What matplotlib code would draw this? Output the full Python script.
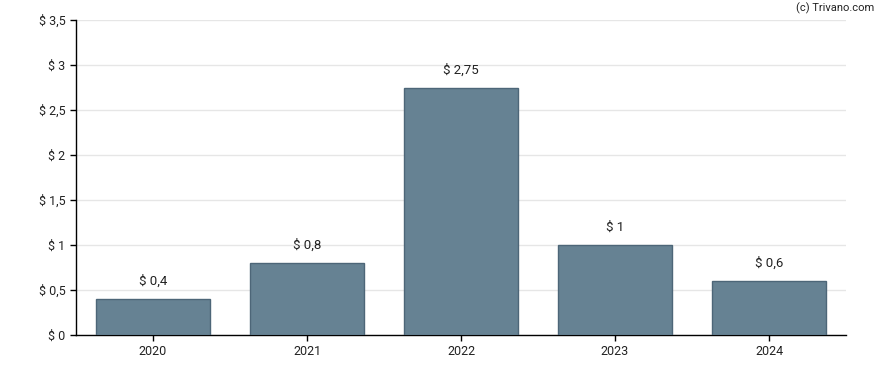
import matplotlib
matplotlib.use("Agg")
import matplotlib.pyplot as plt

years = ["2020", "2021", "2022", "2023", "2024"]
values = [0.4, 0.8, 2.75, 1.0, 0.6]
value_labels = ["$ 0,4", "$ 0,8", "$ 2,75", "$ 1", "$ 0,6"]
y_ticks = [0, 0.5, 1, 1.5, 2, 2.5, 3, 3.5]
y_tick_labels = ["$ 0", "$ 0,5", "$ 1", "$ 1,5", "$ 2", "$ 2,5", "$ 3", "$ 3,5"]

plt.rcParams['font.family'] = ['Roboto', 'DejaVu Sans']

fig = plt.figure(figsize=(8.88, 3.70), dpi=100)
ax = fig.add_axes([76 / 888, 35 / 370, 770 / 888, 315 / 370])

x = range(len(years))
ax.bar(x, values, width=0.745, color="#668293", edgecolor="#4d6678", linewidth=1, zorder=3)
for i, v in enumerate(values):
    ax.annotate(value_labels[i], (i, v), xytext=(0, 8), textcoords="offset points",
                ha="center", va="bottom", fontsize=9.5, color="#222222")

ax.set_xlim(-0.5, 4.5)
ax.set_ylim(0, 3.5)
ax.set_xticks(list(x))
ax.set_xticklabels(years, fontsize=9, color="#222222")
ax.set_yticks(y_ticks)
ax.set_yticklabels(y_tick_labels, fontsize=9, color="#222222")
ax.grid(axis="y", color="#e6e6e6", linewidth=1, zorder=0)
ax.tick_params(axis="both", length=4, width=1, color="black")
ax.spines["top"].set_visible(False)
ax.spines["right"].set_visible(False)
ax.spines["left"].set_linewidth(1)
ax.spines["bottom"].set_linewidth(1)

fig.text(874 / 888, 1 - 8 / 370, "(c) Trivano.com", ha="right", va="center",
         fontsize=8, color="#222222")

fig.savefig("out.png", dpi=100)
